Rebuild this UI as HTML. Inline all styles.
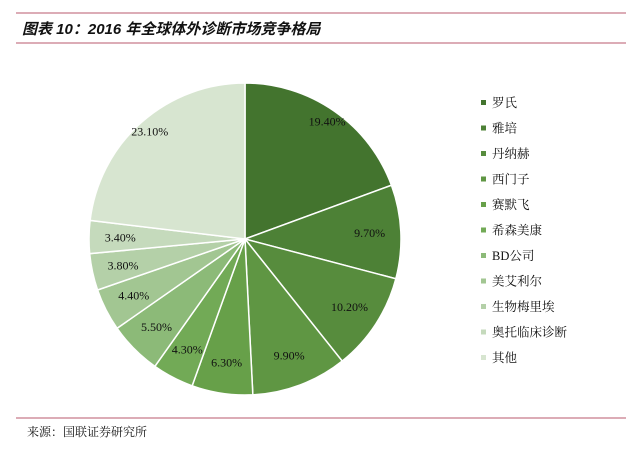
<!DOCTYPE html>
<html><head><meta charset="utf-8"><style>
body{margin:0;background:#fff;width:640px;height:444px;overflow:hidden;font-family:"Liberation Serif","Noto Serif CJK SC",serif;}
</style></head><body>
<svg width="640" height="444">
<line x1="16" y1="13" x2="626" y2="13" stroke="#b8596e" stroke-width="1"/>
<line x1="16" y1="43" x2="626" y2="43" stroke="#b8596e" stroke-width="1"/>
<text x="22" y="34" font-family="Liberation Sans,Noto Sans CJK SC,sans-serif" font-size="15" font-weight="bold" font-style="italic" fill="#111">图表 10：2016 年全球体外诊断市场竞争格局</text>
<line x1="16" y1="418" x2="626" y2="418" stroke="#b8596e" stroke-width="1"/>
<text x="27" y="436" font-size="12" fill="#111">来源：国联证券研究所</text>
<g id="pie"></g>
<g id="legend"></g>
</svg>
<script>
const categories=["罗氏","雅培","丹纳赫","西门子","赛默飞","希森美康","BD公司","美艾利尔","生物梅里埃","奥托临床诊断","其他"];
const values=[19.4,9.7,10.2,9.9,6.3,4.3,5.5,4.4,3.8,3.4,23.1];
const labels=["19.40%","9.70%","10.20%","9.90%","6.30%","4.30%","5.50%","4.40%","3.80%","3.40%","23.10%"];
const colors=["#43742e","#4d8136","#578c3d","#5f9643","#67a049","#72aa56","#8cba78","#a2c692","#b4d0a8","#c5dabc","#d7e5d0"];
const NS="http://www.w3.org/2000/svg";
const cx=245,cy=239,r=156;
const pie=document.getElementById('pie'),leg=document.getElementById('legend');
const total=values.reduce((a,b)=>a+b,0);
let acc=0;
function pt(a,rr){return [cx+rr*Math.sin(a),cy-rr*Math.cos(a)];}
values.forEach((v,i)=>{
  const a0=acc/total*2*Math.PI;acc+=v;const a1=acc/total*2*Math.PI;
  const p0=pt(a0,r),p1=pt(a1,r);
  const p=document.createElementNS(NS,'path');
  p.setAttribute('d',`M${cx},${cy}L${p0[0]},${p0[1]}A${r},${r} 0 ${a1-a0>Math.PI?1:0} 1 ${p1[0]},${p1[1]}Z`);
  p.setAttribute('fill',colors[i]);p.setAttribute('stroke','#fff');p.setAttribute('stroke-width','1.5');
  
  
  pie.appendChild(p);
  const lp=pt((a0+a1)/2,r*(v/total>0.15?0.92:0.8));
  const t=document.createElementNS(NS,'text');
  t.setAttribute('x',lp[0]);t.setAttribute('y',lp[1]+4);t.setAttribute('text-anchor','middle');
  t.setAttribute('font-size','12');t.setAttribute('fill','#111');
  t.setAttribute('font-family','Liberation Serif,serif');
  t.textContent=labels[i];
  
  
  pie.appendChild(t);
  const y=103+i*25.5;
  const s=document.createElementNS(NS,'rect');
  s.setAttribute('x',481);s.setAttribute('y',y-3);s.setAttribute('width',5);s.setAttribute('height',5);s.setAttribute('fill',colors[i]);
  
  
  leg.appendChild(s);
  const lt=document.createElementNS(NS,'text');
  lt.setAttribute('x',492);lt.setAttribute('y',y+4);lt.setAttribute('font-size','12.5');lt.setAttribute('fill','#111');
  lt.textContent=categories[i];
  
  
  leg.appendChild(lt);
});
</script>
</body></html>
